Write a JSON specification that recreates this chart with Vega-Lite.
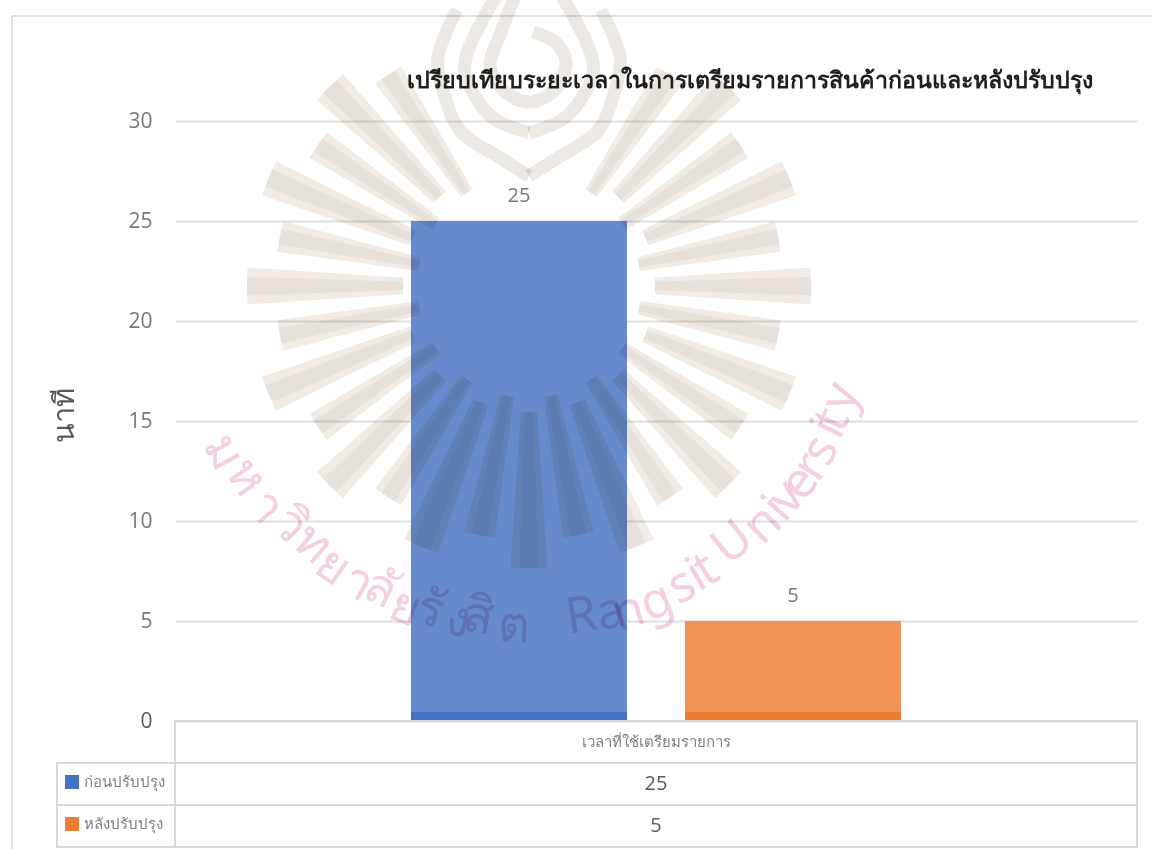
{"$schema":"https://vega.github.io/schema/vega-lite/v6.json","width":962,"height":600,"autosize":{"type":"none"},"padding":{"left":175,"top":121,"right":15,"bottom":128},"background":"white","config":{"view":{"stroke":null},"font":"Open Sans"},
"title":{"text":"เปรียบเทียบระยะเวลาในการเตรียมรายการสินค้าก่อนและหลังปรับปรุง","anchor":"start","frame":"group","dx":232,"dy":105,"offset":0,"fontSize":23.2,"fontWeight":"bold","font":"Liberation Serif","color":"#1f1f1f"},
"datasets":{
"bars":[{"item":"เวลาที่ใช้เตรียมรายการ","series":"ก่อนปรับปรุง","minutes":25},{"item":"เวลาที่ใช้เตรียมรายการ","series":"หลังปรับปรุง","minutes":5}],
"table":[{"item":"เวลาที่ใช้เตรียมรายการ","row":"หมวด","cell":"เวลาที่ใช้เตรียมรายการ"},{"item":"เวลาที่ใช้เตรียมรายการ","row":"ก่อนปรับปรุง","cell":"25"},{"item":"เวลาที่ใช้เตรียมรายการ","row":"หลังปรับปรุง","cell":"5"}],
"rays":[{"a":30.25,"b":37.25,"c":31.95,"d":35.55,"i":112,"o":254},{"a":41.25,"b":48.75,"c":43.1,"d":46.9,"i":126,"o":282},{"a":52.75,"b":59.75,"c":54.45,"d":58.05,"i":112,"o":254},{"a":63.75,"b":71.25,"c":65.6,"d":69.4,"i":126,"o":282},{"a":75.25,"b":82.25,"c":76.95,"d":80.55,"i":112,"o":254},{"a":86.25,"b":93.75,"c":88.1,"d":91.9,"i":126,"o":282},{"a":97.75,"b":104.75,"c":99.45,"d":103.05,"i":112,"o":254},{"a":108.75,"b":116.25,"c":110.6,"d":114.4,"i":126,"o":282},{"a":120.25,"b":127.25,"c":121.95,"d":125.55,"i":112,"o":254},{"a":131.25,"b":138.75,"c":133.1,"d":136.9,"i":126,"o":282},{"a":142.75,"b":149.75,"c":144.45,"d":148.05,"i":112,"o":254},{"a":153.75,"b":161.25,"c":155.6,"d":159.4,"i":126,"o":282},{"a":165.25,"b":172.25,"c":166.95,"d":170.55,"i":112,"o":254},{"a":176.25,"b":183.75,"c":178.1,"d":181.9,"i":126,"o":282},{"a":187.75,"b":194.75,"c":189.45,"d":193.05,"i":112,"o":254},{"a":198.75,"b":206.25,"c":200.6,"d":204.4,"i":126,"o":282},{"a":210.25,"b":217.25,"c":211.95,"d":215.55,"i":112,"o":254},{"a":221.25,"b":228.75,"c":223.1,"d":226.9,"i":126,"o":282},{"a":232.75,"b":239.75,"c":234.45,"d":238.05,"i":112,"o":254},{"a":243.75,"b":251.25,"c":245.6,"d":249.4,"i":126,"o":282},{"a":255.25,"b":262.25,"c":256.95,"d":260.55,"i":112,"o":254},{"a":266.25,"b":273.75,"c":268.1,"d":271.9,"i":126,"o":282},{"a":277.75,"b":284.75,"c":279.45,"d":283.05,"i":112,"o":254},{"a":288.75,"b":296.25,"c":290.6,"d":294.4,"i":126,"o":282},{"a":300.25,"b":307.25,"c":301.95,"d":305.55,"i":112,"o":254},{"a":311.25,"b":318.75,"c":313.1,"d":316.9,"i":126,"o":282},{"a":322.75,"b":329.75,"c":324.45,"d":328.05,"i":112,"o":254}],
"drop":[{"s":"outerL","n":1,"h":-72,"v":276},{"s":"outerL","n":2,"h":-91,"v":229},{"s":"outerL","n":3,"h":-83,"v":186},{"s":"outerL","n":4,"h":-67,"v":153},{"s":"outerL","n":5,"h":-30,"v":129},{"s":"outerL","n":6,"h":0,"v":110},{"s":"outerR","n":6,"h":0,"v":110},{"s":"outerR","n":7,"h":30,"v":129},{"s":"outerR","n":8,"h":67,"v":153},{"s":"outerR","n":9,"h":83,"v":186},{"s":"outerR","n":10,"h":91,"v":229},{"s":"outerR","n":11,"h":72,"v":276},
{"s":"middleL","n":1,"h":-32,"v":291},{"s":"middleL","n":2,"h":-48,"v":263},{"s":"middleL","n":3,"h":-63,"v":229},{"s":"middleL","n":4,"h":-61,"v":203},{"s":"middleL","n":5,"h":-37,"v":169},{"s":"middleL","n":6,"h":0,"v":153},{"s":"middleR","n":6,"h":0,"v":153},{"s":"middleR","n":7,"h":37,"v":169},{"s":"middleR","n":8,"h":61,"v":203},{"s":"middleR","n":9,"h":63,"v":229},{"s":"middleR","n":10,"h":48,"v":263},{"s":"middleR","n":11,"h":32,"v":291},
{"s":"spiral","n":1,"h":-14,"v":291},{"s":"spiral","n":2,"h":-29,"v":251},{"s":"spiral","n":3,"h":-39,"v":221},{"s":"spiral","n":4,"h":-26,"v":196},{"s":"spiral","n":5,"h":0,"v":184},{"s":"spiral","n":6,"h":26,"v":196},{"s":"spiral","n":7,"h":37,"v":223},{"s":"spiral","n":8,"h":26,"v":244},{"s":"spiral","n":9,"h":4,"v":254}],
"mark":[{"g":"ม","t":241.5,"r":348},{"g":"ห","t":236,"r":342},{"g":"า","t":230,"r":344},{"g":"วิ","t":225,"r":339},{"g":"ท","t":220,"r":337},{"g":"ย","t":215,"r":343},{"g":"า","t":210,"r":343},{"g":"ลั","t":206,"r":338},{"g":"ย","t":201,"r":345},{"g":"รั","t":197,"r":339},{"g":"ง","t":192,"r":342},{"g":"สิ","t":188.6,"r":335},{"g":"ต","t":182.5,"r":341},{"g":"R","t":171,"r":335},{"g":"a","t":166,"r":337},{"g":"n","t":163,"r":341},{"g":"g","t":158,"r":341},{"g":"s","t":153,"r":337},{"g":"i","t":150,"r":335},{"g":"t","t":148,"r":335},{"g":"U","t":141.6,"r":328},{"g":"n","t":135.6,"r":334},{"g":"i","t":132,"r":334},{"g":"v","t":129.4,"r":334},{"g":"e","t":126,"r":335},{"g":"r","t":122.7,"r":335},{"g":"s","t":119.4,"r":335},{"g":"i","t":115.5,"r":332},{"g":"t","t":113.8,"r":332},{"g":"y","t":109.6,"r":331}],
"sheet":[{"from":0,"to":1}]
},
"layer":[
{"data":{"name":"bars"},"mark":{"type":"bar"},"encoding":{
"x":{"field":"item","type":"nominal","axis":null,"scale":{"range":[0,962],"paddingInner":0,"paddingOuter":0}},
"xOffset":{"field":"series","type":"nominal","sort":null,"scale":{"domain":["ก่อนปรับปรุง","หลังปรับปรุง"],"paddingInner":0.2117,"paddingOuter":0.861}},
"y":{"field":"minutes","type":"quantitative","scale":{"domain":[0,30],"nice":false},"axis":{"values":[0,5,10,15,20,25,30],"grid":true,"gridColor":"#d9d9d9","gridWidth":2,"ticks":false,"domain":false,"labelFontSize":21,"labelColor":"#595959","labelPadding":23,"labelFont":"Open Sans","title":"นาที","titleFontSize":29,"titleFontWeight":"normal","titleColor":"#333333","titleFont":"Liberation Sans","titleX":-96,"titleY":294}},
"color":{"field":"series","type":"nominal","legend":null,"scale":{"domain":["ก่อนปรับปรุง","หลังปรับปรุง"],"range":["#4472c4","#ed7d31"]}}}},
{"data":{"name":"bars"},"mark":{"type":"text","fontSize":20,"color":"#595959","dy":-25,"font":"Open Sans"},"encoding":{
"x":{"field":"item","type":"nominal","axis":null,"scale":{"type":"band","range":[0,962],"paddingInner":0,"paddingOuter":0}},
"xOffset":{"field":"series","type":"nominal","scale":{"type":"band","domain":["ก่อนปรับปรุง","หลังปรับปรุง"],"paddingInner":0.2117,"paddingOuter":0.861}},
"y":{"field":"minutes","type":"quantitative","axis":null,"scale":{"domain":[0,30],"nice":false}},
"text":{"field":"minutes","type":"quantitative"}}},
{"data":{"name":"sheet"},"mark":{"type":"rect","fill":"white","opacity":0.18},"encoding":{
"x":{"field":"from","type":"quantitative","axis":null,"scale":{"domain":[0,1],"range":[-163,977]}},"x2":{"field":"to"},
"y":{"field":"from","type":"quantitative","axis":null,"scale":{"domain":[0,1],"range":[591,-121]}},"y2":{"field":"to"}}},
{"data":{"name":"sheet"},"mark":{"type":"rect","fill":"transparent","stroke":"#e0e0e0","strokeWidth":2},"encoding":{
"x":{"field":"from","type":"quantitative","axis":null,"scale":{"domain":[0,1],"range":[-163,1000]}},"x2":{"field":"to"},
"y":{"field":"from","type":"quantitative","axis":null,"scale":{"domain":[0,1],"range":[760,-105]}},"y2":{"field":"to"}}},
{"data":{"name":"rays"},"mark":{"type":"arc","fill":"#f1ebe3","blend":"multiply"},"encoding":{
"x":{"datum":0,"type":"quantitative","axis":null,"scale":{"domain":[-529,623],"range":[-175,977]}},
"y":{"datum":0,"type":"quantitative","axis":null,"scale":{"domain":[286,-563],"range":[-121,728]}},
"theta":{"field":"a","type":"quantitative","scale":{"domain":[0,360],"range":[0,6.28319]}},"theta2":{"field":"b"},
"radius":{"field":"o","type":"quantitative","scale":{"domain":[0,400],"range":[0,400]}},"radius2":{"field":"i"}}},
{"data":{"name":"rays"},"mark":{"type":"arc","fill":"#f5f5f8","blend":"multiply"},"encoding":{
"x":{"datum":0,"type":"quantitative","axis":null,"scale":{"domain":[-529,623],"range":[-175,977]}},
"y":{"datum":0,"type":"quantitative","axis":null,"scale":{"domain":[286,-563],"range":[-121,728]}},
"theta":{"field":"c","type":"quantitative","scale":{"domain":[0,360],"range":[0,6.28319]}},"theta2":{"field":"d"},
"radius":{"field":"o","type":"quantitative","scale":{"domain":[0,400],"range":[0,400]}},"radius2":{"field":"i"}}},
{"data":{"name":"drop"},"mark":{"type":"line","stroke":"#ece8e3","strokeWidth":13,"blend":"multiply","strokeJoin":"round","interpolate":"cardinal","clip":false},"encoding":{
"x":{"field":"h","type":"quantitative","axis":null,"scale":{"domain":[-529,623],"range":[-175,977]}},
"y":{"field":"v","type":"quantitative","axis":null,"scale":{"domain":[286,-563],"range":[-121,728]}},
"detail":{"field":"s"},"order":{"field":"n","type":"quantitative"}}},
{"data":{"name":"mark"},"mark":{"type":"text","fontSize":50,"font":"Noto Sans","color":"#f4cfe2","blend":"multiply","baseline":"middle","align":"center"},"encoding":{
"x":{"datum":0,"type":"quantitative","axis":null,"scale":{"domain":[-529,623],"range":[-175,977]}},
"y":{"datum":0,"type":"quantitative","axis":null,"scale":{"domain":[286,-563],"range":[-121,728]}},
"theta":{"field":"t","type":"quantitative","scale":{"domain":[0,360],"range":[0,6.28319]}},
"radius":{"field":"r","type":"quantitative","scale":{"domain":[0,400],"range":[0,400]}},
"angle":{"field":"t","type":"quantitative","scale":{"domain":[0,360],"range":[-180,180]}},
"text":{"field":"g","type":"nominal"}}},
{"data":{"name":"table"},"mark":{"type":"rect","fill":"transparent","stroke":"#d9d9d9","strokeWidth":2},"encoding":{
"x":{"field":"item","type":"nominal","axis":null,"scale":{"type":"band","range":[0,962],"paddingInner":0,"paddingOuter":0}},
"y":{"field":"row","type":"nominal","axis":null,"scale":{"type":"band","domain":["หมวด","ก่อนปรับปรุง","หลังปรับปรุง"],"range":[600,726],"paddingInner":0,"paddingOuter":0}}}},
{"data":{"name":"table"},"transform":[{"filter":"datum.row !== 'หมวด'"}],"mark":{"type":"rect","fill":"transparent","stroke":"#d9d9d9","strokeWidth":2},"encoding":{
"x":{"field":"item","type":"nominal","axis":null,"scale":{"type":"band","range":[-118,0],"paddingInner":0,"paddingOuter":0}},
"y":{"field":"row","type":"nominal","axis":null,"scale":{"type":"band","domain":["หมวด","ก่อนปรับปรุง","หลังปรับปรุง"],"range":[600,726],"paddingInner":0,"paddingOuter":0}}}},
{"data":{"name":"table"},"transform":[{"filter":"datum.row !== 'หมวด'"}],"mark":{"type":"point","shape":"square","filled":true,"size":196,"opacity":1},"encoding":{
"x":{"field":"item","type":"nominal","axis":null,"scale":{"type":"point","range":[-103,-103]}},
"y":{"field":"row","type":"nominal","axis":null,"scale":{"type":"band","domain":["หมวด","ก่อนปรับปรุง","หลังปรับปรุง"],"range":[598,724],"paddingInner":0,"paddingOuter":0}},
"color":{"field":"row","type":"nominal","legend":null,"scale":{"domain":["ก่อนปรับปรุง","หลังปรับปรุง"],"range":["#4472c4","#ed7d31"]}}}},
{"data":{"name":"table"},"transform":[{"filter":"datum.row !== 'หมวด'"}],"mark":{"type":"text","fontSize":15,"color":"#7f7f7f","align":"left","font":"Noto Sans"},"encoding":{
"x":{"field":"item","type":"nominal","axis":null,"scale":{"type":"point","range":[-91,-91]}},
"y":{"field":"row","type":"nominal","axis":null,"scale":{"type":"band","domain":["หมวด","ก่อนปรับปรุง","หลังปรับปรุง"],"range":[598,724],"paddingInner":0,"paddingOuter":0}},
"text":{"field":"row","type":"nominal"}}},
{"data":{"name":"table"},"transform":[{"filter":"datum.row !== 'หมวด'"}],"mark":{"type":"text","fontSize":20,"color":"#595959","font":"Open Sans"},"encoding":{
"x":{"field":"item","type":"nominal","axis":null,"scale":{"type":"band","range":[0,962],"paddingInner":0,"paddingOuter":0}},
"y":{"field":"row","type":"nominal","axis":null,"scale":{"type":"band","domain":["หมวด","ก่อนปรับปรุง","หลังปรับปรุง"],"range":[600,726],"paddingInner":0,"paddingOuter":0}},
"text":{"field":"cell","type":"nominal"}}},
{"data":{"name":"table"},"transform":[{"filter":"datum.row === 'หมวด'"}],"mark":{"type":"text","fontSize":15,"color":"#7f7f7f","font":"Noto Sans"},"encoding":{
"x":{"field":"item","type":"nominal","axis":null,"scale":{"type":"band","range":[0,962],"paddingInner":0,"paddingOuter":0}},
"y":{"field":"row","type":"nominal","axis":null,"scale":{"type":"band","domain":["หมวด","ก่อนปรับปรุง","หลังปรับปรุง"],"range":[600,726],"paddingInner":0,"paddingOuter":0}},
"text":{"field":"cell","type":"nominal"}}}
],
"resolve":{"scale":{"x":"independent","y":"independent","xOffset":"independent","color":"independent","theta":"independent","radius":"independent","angle":"independent"},"axis":{"x":"independent","y":"independent"}}}
